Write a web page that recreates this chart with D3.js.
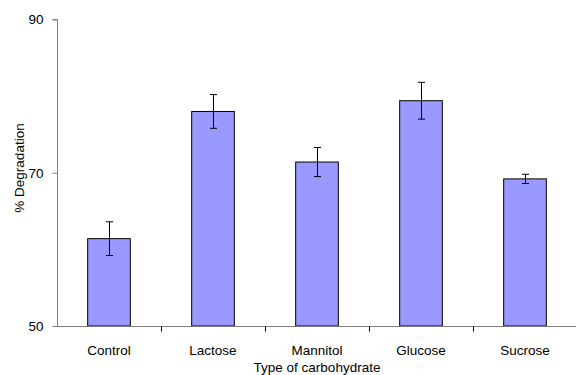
<!DOCTYPE html>
<html>
<head>
<meta charset="utf-8">
<script src="https://cdn.jsdelivr.net/npm/d3@7"></script>
<style>
  html, body { margin: 0; padding: 0; background: #fff; }
  svg { display: block; font-family: "Liberation Sans", Arial, sans-serif; }
</style>
</head>
<body>
<svg id="chart" width="576" height="375"></svg>
<script>
// Degradation by carbohydrate source, mean ± error
const categories = ["Control", "Lactose", "Mannitol", "Glucose", "Sucrose"];
const degradation = [61.4, 78.0, 71.4, 79.4, 69.2];
const errors = [2.2, 2.2, 1.9, 2.4, 0.6];
const yTicks = [50, 70, 90];

const svg = d3.select("#chart");
const margin = { left: 57, right: -1, top: 19.5, bottom: 49 };
const W = 576, H = 375;
const fontSize = 13.5;

const x = d3.scaleBand()
  .domain(categories)
  .range([margin.left, W - margin.right])
  .paddingInner(0.59)
  .paddingOuter(0.295);

const xCat = d3.scaleBand()
  .domain(categories)
  .range([margin.left, W - margin.right]);

const y = d3.scaleLinear()
  .domain([50, 90])
  .range([H - margin.bottom, margin.top]);

const axisColor = "#808080";

// bars
svg.append("g").selectAll("rect")
  .data(categories)
  .join("rect")
  .attr("x", d => x(d))
  .attr("y", (d, i) => y(degradation[i]))
  .attr("width", x.bandwidth())
  .attr("height", (d, i) => y(50) - y(degradation[i]))
  .attr("fill", "#9999FF")
  .attr("stroke", "#000")
  .attr("stroke-width", 1);

// error bars
const eb = svg.append("g").attr("stroke", "#000").attr("stroke-width", 1);
categories.forEach((c, i) => {
  const cx = Math.round(x(c) + x.bandwidth() / 2) + 0.5;
  const hi = y(degradation[i] + errors[i]);
  const lo = y(degradation[i] - errors[i]);
  eb.append("line").attr("x1", cx).attr("x2", cx).attr("y1", hi).attr("y2", lo);
  eb.append("line").attr("x1", cx - 3.5).attr("x2", cx + 3.5).attr("y1", hi).attr("y2", hi);
  eb.append("line").attr("x1", cx - 3.5).attr("x2", cx + 3.5).attr("y1", lo).attr("y2", lo);
});

// y axis
const yAxis = svg.append("g")
  .attr("transform", `translate(${margin.left + 0.5},0)`)
  .call(d3.axisLeft(y).tickValues(yTicks).tickSize(5).tickPadding(9).tickFormat(d3.format("d")));
yAxis.select(".domain").attr("stroke", axisColor).attr("d", `M-5,${y(90)}H0V${y(50)}`);
yAxis.selectAll(".tick line").attr("stroke", axisColor);
yAxis.selectAll(".tick text").attr("fill", "#000").attr("font-size", fontSize);

// x axis with ticks between categories
const xAxisG = svg.append("g").attr("transform", `translate(0,${y(50) + 0.5})`);
xAxisG.append("line")
  .attr("x1", margin.left).attr("x2", W + 2)
  .attr("stroke", axisColor);
xAxisG.selectAll(".sep")
  .data(categories.slice(1))
  .join("line")
  .attr("x1", d => Math.round(xCat(d)) + 0.5)
  .attr("x2", d => Math.round(xCat(d)) + 0.5)
  .attr("y1", 0).attr("y2", 5)
  .attr("stroke", "#000");
xAxisG.selectAll("text")
  .data(categories)
  .join("text")
  .attr("x", d => xCat(d) + xCat.bandwidth() / 2)
  .attr("y", 28.5)
  .attr("text-anchor", "middle")
  .attr("font-size", fontSize)
  .attr("fill", "#000")
  .text(d => d);

// axis titles
svg.append("text")
  .attr("x", 317).attr("y", 372)
  .attr("text-anchor", "middle")
  .attr("font-size", fontSize)
  .text("Type of carbohydrate");

svg.append("text")
  .attr("transform", `translate(24,168) rotate(-90)`)
  .attr("text-anchor", "middle")
  .attr("font-size", fontSize)
  .text("% Degradation");
</script>
</body>
</html>
